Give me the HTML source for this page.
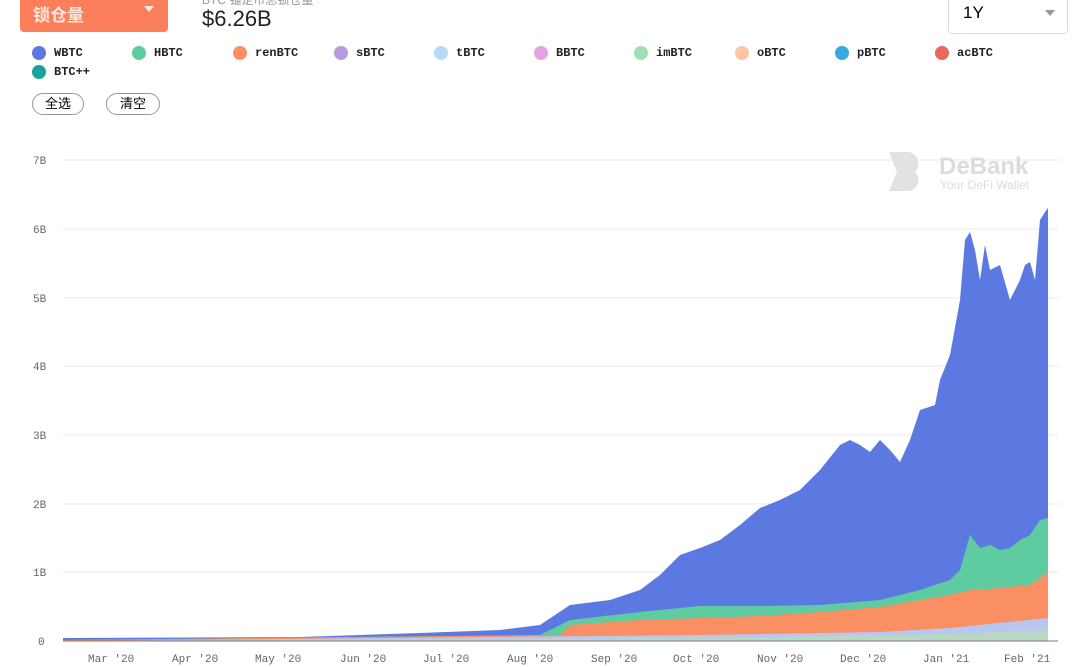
<!DOCTYPE html>
<html><head><meta charset="utf-8"><style>
body{margin:0;width:1080px;height:667px;background:#fff;overflow:hidden;position:relative;font-family:"Liberation Sans","Noto Sans CJK SC",sans-serif}
.btn{position:absolute;left:20px;top:-8px;width:148px;height:40px;background:#fa7f5a;border-radius:4px;color:#fde8df;font-size:17px;font-weight:bold}
.leg{position:absolute;font-family:"Liberation Mono",monospace;font-size:12px;color:#222;font-weight:bold}
.leg i{position:absolute;left:-22px;top:0;width:14px;height:14px;border-radius:50%}
.pill{position:absolute;top:93px;height:20px;border:1px solid #999;border-radius:11px;font-size:13px;line-height:20px;text-align:center}
</style></head><body>
<div class="btn"><span style="position:absolute;left:13px;top:9px">锁仓量</span><span style="position:absolute;right:14px;top:14px;border:5px solid transparent;border-top:6px solid #fde8df"></span></div>
<div style="position:absolute;left:202px;top:-9px;font-size:12px;color:#999">BTC 锚定币总锁仓量</div>
<div style="position:absolute;left:202px;top:6px;font-size:22px;color:#222">$6.26B</div>
<div style="position:absolute;left:948px;top:-8px;width:118px;height:40px;border:1px solid #ddd;border-radius:4px"><span style="position:absolute;left:14px;top:10px;font-size:17px">1Y</span><span style="position:absolute;right:12px;top:17px;border:5px solid transparent;border-top:6px solid #999"></span></div>
<div class="leg" style="left:54px;top:46px"><i style="background:#5b79e0"></i>WBTC</div>
<div class="leg" style="left:154px;top:46px"><i style="background:#5fcba0"></i>HBTC</div>
<div class="leg" style="left:255px;top:46px"><i style="background:#f98f62"></i>renBTC</div>
<div class="leg" style="left:356px;top:46px"><i style="background:#b49be0"></i>sBTC</div>
<div class="leg" style="left:456px;top:46px"><i style="background:#b5dcf5"></i>tBTC</div>
<div class="leg" style="left:556px;top:46px"><i style="background:#e3a3e0"></i>BBTC</div>
<div class="leg" style="left:656px;top:46px"><i style="background:#9fe0b2"></i>imBTC</div>
<div class="leg" style="left:757px;top:46px"><i style="background:#fcc6a5"></i>oBTC</div>
<div class="leg" style="left:857px;top:46px"><i style="background:#36a9e0"></i>pBTC</div>
<div class="leg" style="left:957px;top:46px"><i style="background:#e8695a"></i>acBTC</div>
<div class="leg" style="left:54px;top:65px"><i style="background:#17a39a"></i>BTC++</div>
<div class="pill" style="left:32px;width:50px">全选</div>
<div class="pill" style="left:106px;width:52px">清空</div>
<svg width="1080" height="667" style="position:absolute;left:0;top:0" font-family="Liberation Mono,monospace" font-size="11" fill="#666">
<g stroke="#e8e8e8">
<line x1="63" x2="1058" y1="160" y2="160"/><line x1="63" x2="1058" y1="229" y2="229"/><line x1="63" x2="1058" y1="298" y2="298"/><line x1="63" x2="1058" y1="366" y2="366"/><line x1="63" x2="1058" y1="435" y2="435"/><line x1="63" x2="1058" y1="504" y2="504"/><line x1="63" x2="1058" y1="572" y2="572"/>
</g>
<g><text x="33" y="164">7B</text><text x="33" y="233">6B</text><text x="33" y="302">5B</text><text x="33" y="370">4B</text><text x="33" y="439">3B</text><text x="33" y="508">2B</text><text x="33" y="576">1B</text><text x="38" y="645">0</text></g>
<path d="M889 152h20a12 12 0 0 1 6 20a11 11 0 0 1 -6 19h-20l8-19z" fill="#e2e2e2"/>
<text x="939" y="174" font-family="Liberation Sans" font-size="24" font-weight="bold" fill="#dcdcdc">DeBank</text>
<text x="940" y="189" font-family="Liberation Sans" font-size="12" fill="#dcdcdc">Your DeFi Wallet</text>
<polygon fill="#5b79e0" points="63,641 63,638 300,637 420,633 500,630 540,625 570,605 610,600 640,590 660,575 680,555 700,548 720,540 740,525 760,508 780,500 800,490 820,470 840,445 850,440 860,445 870,452 880,440 890,450 900,462 910,440 920,410 935,405 940,380 950,355 960,300 965,240 970,232 975,250 980,280 985,245 990,270 1000,265 1010,300 1020,280 1025,265 1030,262 1035,280 1040,220 1045,212 1048,208 1048,641"/>
<polygon fill="#5fcba0" points="63,641 63,640 540,635 570,620 640,612 700,606 760,606 820,605 880,600 920,590 950,580 960,570 970,535 980,548 990,545 1000,550 1010,548 1020,540 1030,535 1040,520 1048,518 1048,641"/>
<polygon fill="#f98f62" points="63,641 63,640 560,635 570,625 640,620 700,618 760,616 820,612 880,607 920,600 950,595 970,590 1000,588 1030,585 1048,572 1048,641"/>
<polygon fill="#b9c6f0" points="63,641 700,635 880,632 950,628 1048,618 1048,641"/>
<polygon fill="#b8d8c4" points="63,641 700,638 950,634 1048,630 1048,641"/>
<line x1="63" x2="1058" y1="641" y2="641" stroke="#777"/>
<g><text x="88" y="662">Mar '20</text><text x="172" y="662">Apr '20</text><text x="255" y="662">May '20</text><text x="340" y="662">Jun '20</text><text x="423" y="662">Jul '20</text><text x="507" y="662">Aug '20</text><text x="591" y="662">Sep '20</text><text x="673" y="662">Oct '20</text><text x="757" y="662">Nov '20</text><text x="840" y="662">Dec '20</text><text x="923" y="662">Jan '21</text><text x="1004" y="662">Feb '21</text></g>
</svg>
</body></html>
